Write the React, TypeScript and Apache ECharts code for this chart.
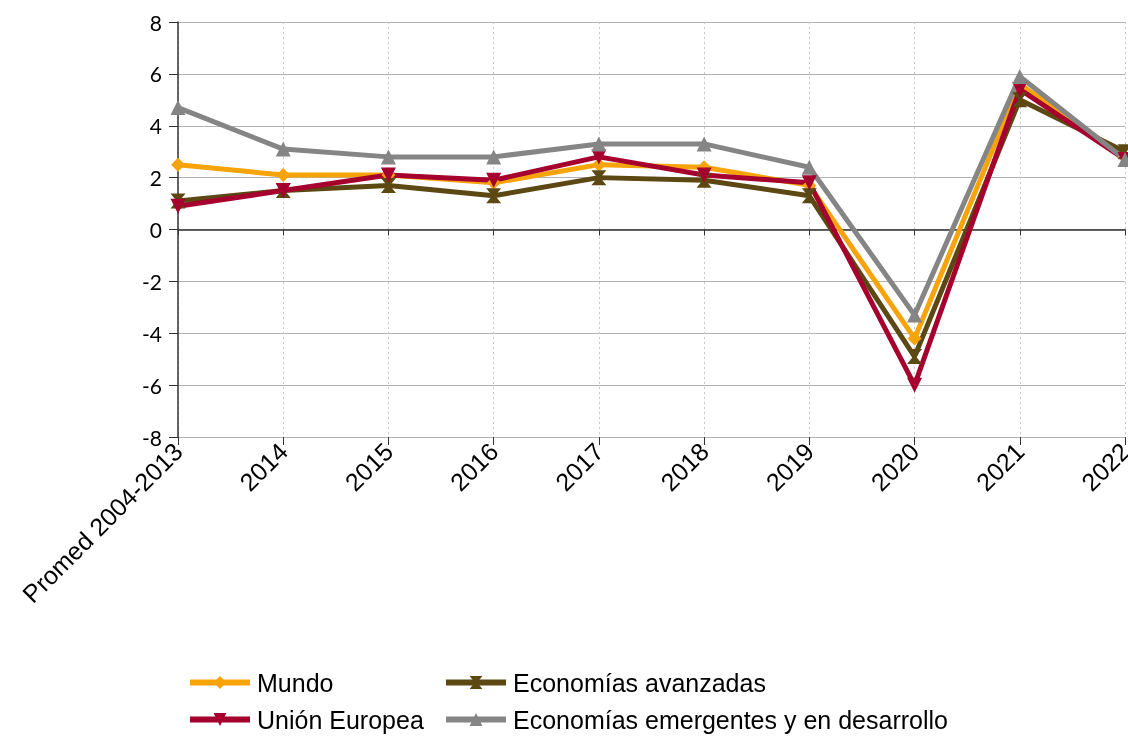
import React, { useEffect, useRef } from "react";
import * as echarts from "echarts";

const categories = ["Promed 2004-2013", "2014", "2015", "2016", "2017", "2018", "2019", "2020", "2021", "2022"];
const mundo = [2.5, 2.1, 2.1, 1.8, 2.5, 2.4, 1.7, -4.2, 5.6, 2.8];
const avanzadas = [1.1, 1.5, 1.7, 1.3, 2.0, 1.9, 1.3, -4.9, 5.0, 3.0];
const ue = [0.9, 1.5, 2.1, 1.9, 2.8, 2.1, 1.8, -6.0, 5.4, 2.7];
const emergentes = [4.7, 3.1, 2.8, 2.8, 3.3, 3.3, 2.4, -3.3, 5.9, 2.7];
const yTicks = { min: -8, max: 8, interval: 2 };

const hourglass = "path://M0,0 L10,0 L6,5 L10,10 L0,10 L4,5 Z";

export default function App() {
  const ref = useRef<HTMLDivElement>(null);
  useEffect(() => {
    const chart = echarts.init(ref.current!, null, { renderer: "svg" });
    const mk = (name: string, data: number[], color: string, symbol: string, rotate = 0, size = 14) => ({
      name,
      type: "line",
      data,
      xAxisIndex: 0,
      symbol,
      symbolRotate: rotate,
      symbolSize: size,
      lineStyle: { color, width: 5 },
      itemStyle: { color },
    });
    const legendCommon = {
      orient: "vertical",
      top: 670,
      height: 100,
      padding: 0,
      itemWidth: 60,
      itemHeight: 16,
      itemGap: 12,
      lineStyle: { width: 6 },
      textStyle: { fontFamily: "Liberation Sans", fontSize: 25, color: "#000", padding: [0, 0, 0, 2] },
    };
    chart.setOption({
      animation: false,
      grid: { left: 178, right: 3, top: 22, bottom: 301, outerBoundsMode: "none", containLabel: false },
      legend: [
        { ...legendCommon, data: ["Mundo", "Unión Europea"], left: 187 },
        { ...legendCommon, data: ["Economías avanzadas", "Economías emergentes y en desarrollo"], left: 443 },
      ],
      xAxis: [
        {
          type: "category",
          data: categories,
          boundaryGap: false,
          position: "bottom",
          axisLine: { onZero: false, show: true, lineStyle: { color: "#b3b3b3" } },
          axisTick: { show: true, length: 8, interval: 0, lineStyle: { color: "#333" } },
          axisLabel: { rotate: 45, fontSize: 25, fontFamily: "Liberation Sans", color: "#000", margin: 10, interval: 0 },
          splitLine: { show: true, lineStyle: { color: "#c8c8c8", type: [2, 3] } },
        },
        {
          type: "category",
          data: categories,
          boundaryGap: false,
          position: "bottom",
          axisLine: { onZero: true, show: true, lineStyle: { color: "#333", width: 1.5 } },
          axisTick: { show: true, length: 6, interval: 0, lineStyle: { color: "#333" } },
          axisLabel: { show: false },
          splitLine: { show: false },
        },
      ],
      yAxis: {
        type: "value",
        min: yTicks.min,
        max: yTicks.max,
        interval: yTicks.interval,
        axisLine: { show: true, lineStyle: { color: "#333", width: 1.5 } },
        axisTick: { show: true, length: 9, lineStyle: { color: "#333" } },
        axisLabel: { fontSize: 21, fontFamily: "Lato", color: "#000", margin: 16 },
        splitLine: { show: true, lineStyle: { color: "#b3b3b3" } },
      },
      series: [
        mk("Mundo", mundo, "#f7a30a", "diamond", 0, 14),
        mk("Economías avanzadas", avanzadas, "#5c4813", hourglass, 0, 15),
        mk("Unión Europea", ue, "#a5002e", "triangle", 180, 15),
        mk("Economías emergentes y en desarrollo", emergentes, "#858585", "triangle", 0, 15),
      ],
    });
    return () => chart.dispose();
  }, []);
  return <div ref={ref} style={{ position: "fixed", left: 0, top: 0, width: 1128, height: 738 }} />;
}
